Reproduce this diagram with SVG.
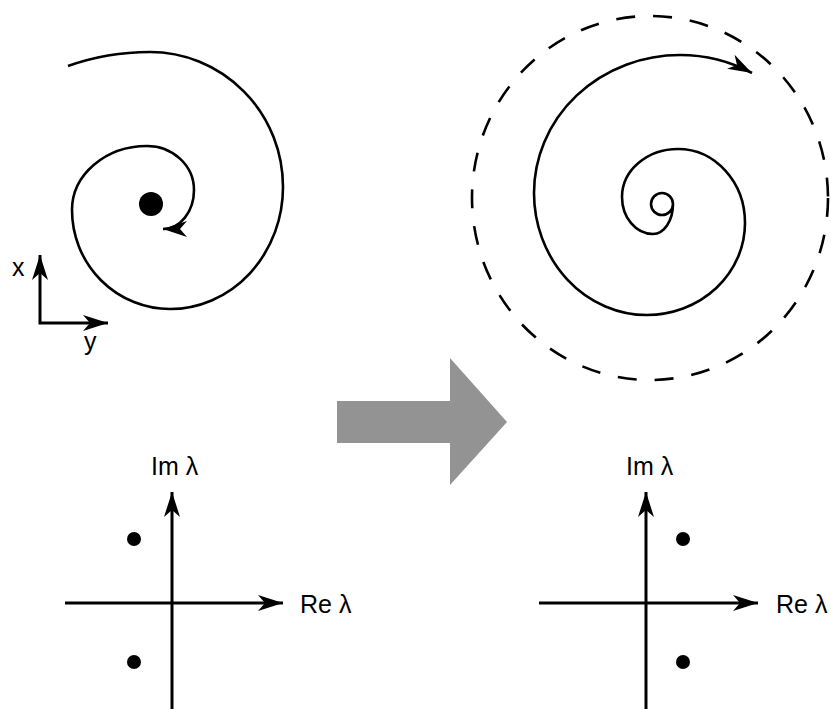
<svg xmlns="http://www.w3.org/2000/svg" width="831" height="709" viewBox="0 0 831 709">
<style>
.ln{fill:none;stroke:#000;stroke-width:2.6}
.ax{fill:none;stroke:#000;stroke-width:3}
.t{font-family:"Liberation Sans",Arial,sans-serif;font-size:25px;fill:#000}
</style>
<defs>
<marker id="ah" markerUnits="userSpaceOnUse" markerWidth="30" markerHeight="20" viewBox="-26 -10 30 20" refX="0" refY="0" orient="auto">
<path d="M0,0 L-25,-8 L-18,0 L-25,8 Z" fill="#000"/>
</marker>
<marker id="ahs" markerUnits="userSpaceOnUse" markerWidth="30" markerHeight="20" viewBox="-26 -10 30 20" refX="0" refY="0" orient="auto-start-reverse">
<path d="M0,0 L-25,-8 L-18,0 L-25,8 Z" fill="#000"/>
</marker>
<marker id="sh" markerUnits="userSpaceOnUse" markerWidth="30" markerHeight="20" viewBox="-26 -10 30 20" refX="0" refY="0" orient="auto">
<path d="M0,0 L-24,-8 L-17,0 L-24,8 Z" fill="#000"/>
</marker>
</defs>
<g id="stable-spiral">
<path class="ln" marker-end="url(#sh)" d="M68,66 A195,150 0 0 1 150,52 A133,135 0 0 1 283,187 A113,122 0 0 1 170,309 A98,99 0 0 1 72,210 A75,64 0 0 1 147,146 A47,44 0 0 1 194,190 A31,39 0 0 1 163,229"/>
<circle cx="151" cy="204" r="12" fill="#000"/>
</g>
<g id="xy-axes">
<path class="ax" marker-start="url(#ahs)" marker-end="url(#ah)" d="M40,255 L40,323 L108,323"/>
<text class="t" x="12" y="276">x</text>
<text class="t" x="84" y="350">y</text>
</g>
<g id="unstable-spiral">
<ellipse cx="650" cy="198" rx="178" ry="182" fill="none" stroke="#000" stroke-width="2.6" stroke-dasharray="19 18"/>
<path class="ln" marker-end="url(#sh)" d="M673,204 A11,11 0 0 1 651,204 A11,11 0 0 1 673,204 A20,30 0 0 1 653,234 A31,37 0 0 1 622,197 A56,48 0 0 1 678,149 A67,74 0 0 1 745,223 A98,92 0 0 1 647,315 A113,122 0 0 1 534,193 A146,138 0 0 1 680,55 A156,160 0 0 1 752,73"/>
</g>
<g id="transition-arrow">
<polygon points="337,401 450,401 450,358 507,422 450,485 450,443 337,443" fill="#939393"/>
</g>
<g id="eigen-left">
<path class="ax" marker-end="url(#ah)" d="M172,709 L172,492"/>
<path class="ax" marker-end="url(#ah)" d="M65,603 L283,603"/>
<circle cx="134" cy="539" r="7" fill="#000"/>
<circle cx="134" cy="662" r="7" fill="#000"/>
<text class="t" x="151" y="475">Im λ</text>
<text class="t" x="300" y="613">Re λ</text>
</g>
<g id="eigen-right">
<path class="ax" marker-end="url(#ah)" d="M646,709 L646,492"/>
<path class="ax" marker-end="url(#ah)" d="M539,603 L758,603"/>
<circle cx="683" cy="539" r="7" fill="#000"/>
<circle cx="683" cy="662" r="7" fill="#000"/>
<text class="t" x="626" y="475">Im λ</text>
<text class="t" x="776" y="613">Re λ</text>
</g>
</svg>
